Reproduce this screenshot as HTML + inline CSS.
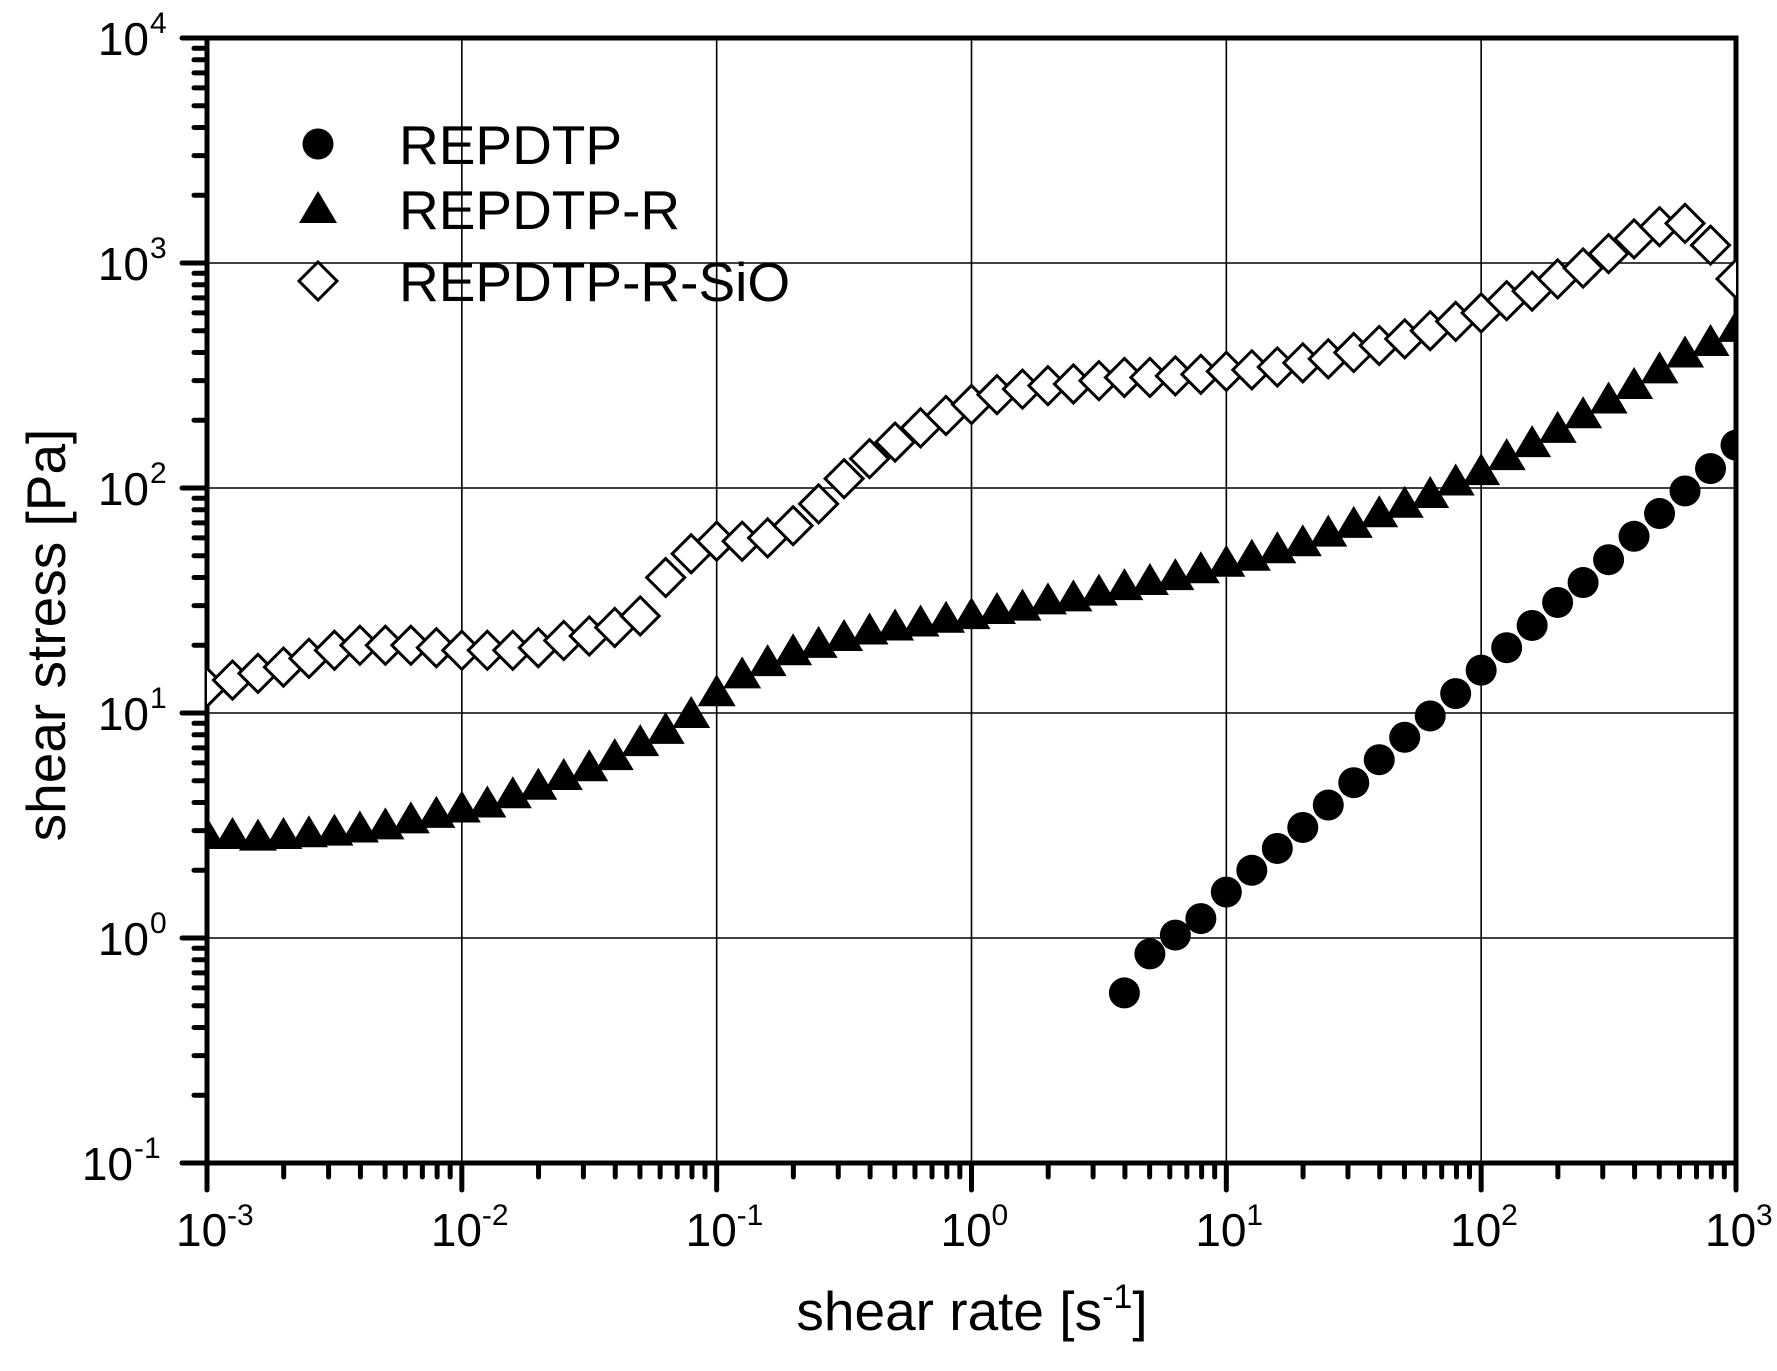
<!DOCTYPE html>
<html><head><meta charset="utf-8"><style>
html,body{margin:0;padding:0;background:#fff;}
svg{display:block;font-family:"Liberation Sans",Arial,sans-serif;}
</style></head><body>
<svg id="s" width="1777" height="1371" xmlns="http://www.w3.org/2000/svg"></svg>
<script>
const L=207,R=1736,T=38,B=1163;
const X=v=>L+(Math.log10(v)+3)*(R-L)/6;
const Y=v=>T+(4-Math.log10(v))*(B-T)/5;
let h='<defs><clipPath id="c"><rect x="'+L+'" y="'+T+'" width="'+(R-L)+'" height="'+(B-T)+'"/></clipPath></defs>';
for(let e=-2;e<=2;e++){const x=X(Math.pow(10,e));h+=`<line x1="${x}" y1="${T}" x2="${x}" y2="${B}" stroke="#000" stroke-width="1.6"/>`;}
for(let e=0;e<=3;e++){const y=Y(Math.pow(10,e));h+=`<line x1="${L}" y1="${y}" x2="${R}" y2="${y}" stroke="#000" stroke-width="1.6"/>`;}
for(let e=-3;e<=3;e++){for(let m=1;m<10;m++){if(e==3&&m>1)break;const x=X(m*Math.pow(10,e));const len=m==1?27:14;h+=`<line x1="${x}" y1="${B}" x2="${x}" y2="${B+len}" stroke="#000" stroke-width="5" stroke-linecap="round"/>`;}}
for(let e=-1;e<=4;e++){for(let m=1;m<10;m++){if(e==4&&m>1)break;const y=Y(m*Math.pow(10,e));const len=m==1?25:13;h+=`<line x1="${L}" y1="${y}" x2="${L-len}" y2="${y}" stroke="#000" stroke-width="5" stroke-linecap="round"/>`;}}
h+=`<rect x="${L}" y="${T}" width="${R-L}" height="${B-T}" fill="none" stroke="#000" stroke-width="5"/>`;
for(let e=-3;e<=3;e++){const x=X(Math.pow(10,e));h+=`<text x="${x-31}" y="1246" font-size="46">10</text><text x="${x+20}" y="1225" font-size="30">${e}</text>`;}
for(let e=-1;e<=4;e++){const y=Y(Math.pow(10,e));const ex=String(e);const w=ex.length>1?34:18;h+=`<text x="${167-w}" y="${y+17}" font-size="46" text-anchor="end">10</text><text x="${167-w+1}" y="${y-5}" font-size="30">${ex}</text>`;}
h+=`<text x="972" y="1330" font-size="55" text-anchor="middle">shear rate [s<tspan font-size="34" dy="-22">-1</tspan><tspan dy="22">]</tspan></text>`;
h+=`<text transform="translate(65,635) rotate(-90)" font-size="55" text-anchor="middle">shear stress [Pa]</text>`;
const dia=[13,14,15,16,17.5,19,20,20,20,19.5,19,19,19,19.5,21,22,24,27,40,51,58,58,60,68,85,110,135,160,185,210,235,260,275,285,290,300,310,310,315,320,330,335,345,360,375,400,430,460,500,550,600,680,750,850,950,1100,1280,1450,1500,1200,850];
const tri=[2.9,2.9,2.85,2.9,2.95,3.0,3.1,3.2,3.4,3.6,3.8,4.0,4.4,4.8,5.3,5.8,6.5,7.5,8.5,10,12.5,15,17,19,20.5,22,23.5,24.5,25.5,26.5,27.5,29,30,32,33,35,37,39,41,44,47,50,54,58,64,70,78,86,95,108,120,140,160,185,215,250,290,340,400,450,520];
const cir=[0.57,0.85,1.03,1.22,1.6,2.0,2.5,3.1,3.9,4.9,6.2,7.8,9.7,12.2,15.5,19.5,24.5,31,38,48,61,77,97,122,155];
const D=(x,y)=>`<path d="M${x} ${y-19}L${x+19} ${y}L${x} ${y+19}L${x-19} ${y}Z" fill="#fff" stroke="#000" stroke-width="3"/>`;
const Tr=(x,y)=>`<path d="M${x} ${y-17}L${x+19} ${y+15}L${x-19} ${y+15}Z" fill="#000"/>`;
const C=(x,y)=>`<circle cx="${x}" cy="${y}" r="15.5" fill="#000"/>`;
let g='<g clip-path="url(#c)">';
tri.forEach((v,i)=>{g+=Tr(X(Math.pow(10,-3+i*0.1)),Y(v));});
dia.forEach((v,i)=>{g+=D(X(Math.pow(10,-3+i*0.1)),Y(v));});
cir.forEach((v,i)=>{g+=C(X(Math.pow(10,0.6+i*0.1)),Y(v));});
g+='</g>';h+=g;
h+=C(318,144)+Tr(318,208)+D(318,281);
h+=`<text x="399" y="164" font-size="55">REPDTP</text><text x="399" y="229" font-size="55">REPDTP-R</text><text x="399" y="301" font-size="55">REPDTP-R-SiO</text>`;
document.getElementById('s').innerHTML=h;
</script>
</body></html>
